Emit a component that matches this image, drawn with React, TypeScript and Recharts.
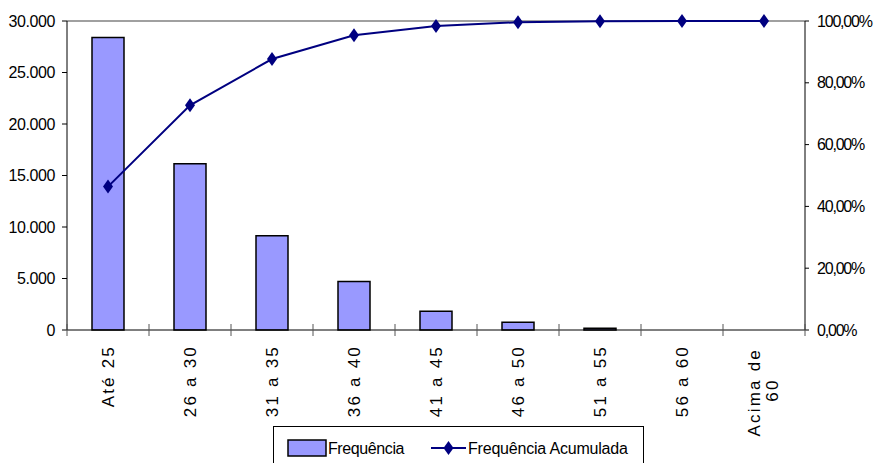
import { ComposedChart, Bar, Line, XAxis, YAxis, ReferenceLine } from 'recharts';

const categories = ['Até 25', '26 a 30', '31 a 35', '36 a 40', '41 a 45', '46 a 50', '51 a 55', '56 a 60', 'Acima de 60'];
const frequencia = [28400, 16150, 9150, 4700, 1820, 760, 170, 0, 0];
const acumulada = [0.464, 0.727, 0.877, 0.954, 0.984, 0.996, 0.999, 1.0, 1.0];

const leftTicks = [0, 5000, 10000, 15000, 20000, 25000, 30000];
const rightTicks = [0, 0.2, 0.4, 0.6, 0.8, 1.0];

const data = categories.map((cat, i) => ({
    cat,
    freq: frequencia[i],
    acum: acumulada[i],
}));

const FONT = '"Liberation Sans", Arial, sans-serif';
const NAVY = '#000080';
const BAR_FILL = '#9999ff';

const fmtThousands = (v: number) => (v === 0 ? '0' : v.toLocaleString('de-DE'));
const fmtPercent = (v: number) => `${(v * 100).toFixed(2).replace('.', ',')}%`;

// diamond marker like the Excel original
const Diamond = (props: any) => {
    const { cx, cy } = props;
    if (cx == null || cy == null) return null;
    return (
        <polygon
            points={`${cx},${cy - 7} ${cx + 5},${cy} ${cx},${cy + 7} ${cx - 5},${cy}`}
            fill={NAVY}
        />
    );
};

const CategoryTick = (props: any) => {
    const { x, y, payload, index } = props;
    const off = payload?.offset ?? 41;
    const label: string = payload.value;
    const top = y + 15;
    const textStyle = { fontFamily: FONT, fontSize: 17, letterSpacing: 2.2, fill: '#000' };
    return (
        <g>
            <line x1={x - off} y1={y - 6} x2={x - off} y2={y + 6} stroke="#555" />
            {index === categories.length - 1 && (
                <line x1={x + off} y1={y - 6} x2={x + off} y2={y + 6} stroke="#555" />
            )}
            {label === 'Acima de 60' ? (
                <>
                    <text transform={`translate(${x - 4},${top + 3}) rotate(-90)`} textAnchor="end" style={textStyle}>
                        Acima de
                    </text>
                    <text transform={`translate(${x + 14},${top + 45}) rotate(-90)`} textAnchor="middle" style={textStyle}>
                        60
                    </text>
                </>
            ) : (
                <text transform={`translate(${x + 6},${top}) rotate(-90)`} textAnchor="end" style={textStyle}>
                    {label}
                </text>
            )}
        </g>
    );
};

const LegendBox = () => (
    <div
        style={{
            position: 'absolute',
            left: 273,
            top: 426,
            width: 369,
            height: 50,
            border: '1px solid #000',
            background: '#fff',
        }}
    >
        <svg width={369} height={40} style={{ position: 'absolute', left: 0, top: 0 }}>
            <rect x={14} y={13} width={38} height={16} fill={BAR_FILL} stroke="#000" strokeWidth={1.5} />
            <text x={54} y={27} style={{ fontFamily: FONT, fontSize: 16, letterSpacing: -0.4 }}>Frequência</text>
            <line x1={157} y1={21} x2={192} y2={21} stroke={NAVY} strokeWidth={2} />
            <polygon points="174.5,14 179.5,21 174.5,28 169.5,21" fill={NAVY} />
            <text x={194} y={27} style={{ fontFamily: FONT, fontSize: 16, letterSpacing: -0.2 }}>Frequência Acumulada</text>
        </svg>
    </div>
);

export default function App() {
    return (
        <div style={{ position: 'absolute', left: 0, top: 0, width: 877, height: 463, background: '#fff', overflow: 'hidden' }}>
            <ComposedChart
                width={877}
                height={463}
                data={data}
                margin={{ top: 21, right: 0, left: 7, bottom: 0 }}
                barCategoryGap={0}
            >
                <XAxis
                    dataKey="cat"
                    xAxisId="x"
                    interval={0}
                    height={133}
                    tickSize={0}
                    tickMargin={0}
                    tickLine={false}
                    axisLine={{ stroke: '#000' }}
                    tick={<CategoryTick />}
                />
                <YAxis
                    yAxisId="left"
                    domain={[0, 30000]}
                    ticks={leftTicks}
                    width={60}
                    tickSize={5}
                    tickMargin={7}
                    tickFormatter={fmtThousands}
                    axisLine={{ stroke: '#000' }}
                    tickLine={{ stroke: '#000' }}
                    tick={{ fill: '#000', fontSize: 16, fontFamily: FONT, letterSpacing: -0.4 }}
                    interval={0}
                />
                <YAxis
                    yAxisId="right"
                    orientation="right"
                    domain={[0, 1]}
                    ticks={rightTicks}
                    width={72}
                    tickSize={4}
                    tickMargin={8}
                    tickFormatter={fmtPercent}
                    axisLine={{ stroke: '#000' }}
                    tickLine={{ stroke: '#000' }}
                    tick={{ fill: '#000', fontSize: 16, fontFamily: FONT, letterSpacing: -1.2 }}
                    interval={0}
                />
                <ReferenceLine yAxisId="left" xAxisId="x" y={30000} stroke="#808080" strokeWidth={1.5} />
                <Bar
                    dataKey="freq"
                    xAxisId="x"
                    yAxisId="left"
                    barSize={32}
                    fill={BAR_FILL}
                    stroke="#000"
                    strokeWidth={1.5}
                    isAnimationActive={false}
                />
                <Line
                    dataKey="acum"
                    xAxisId="x"
                    yAxisId="right"
                    type="linear"
                    stroke={NAVY}
                    strokeWidth={2}
                    dot={<Diamond />}
                    activeDot={false}
                    isAnimationActive={false}
                />
            </ComposedChart>
            <LegendBox />
        </div>
    );
}
